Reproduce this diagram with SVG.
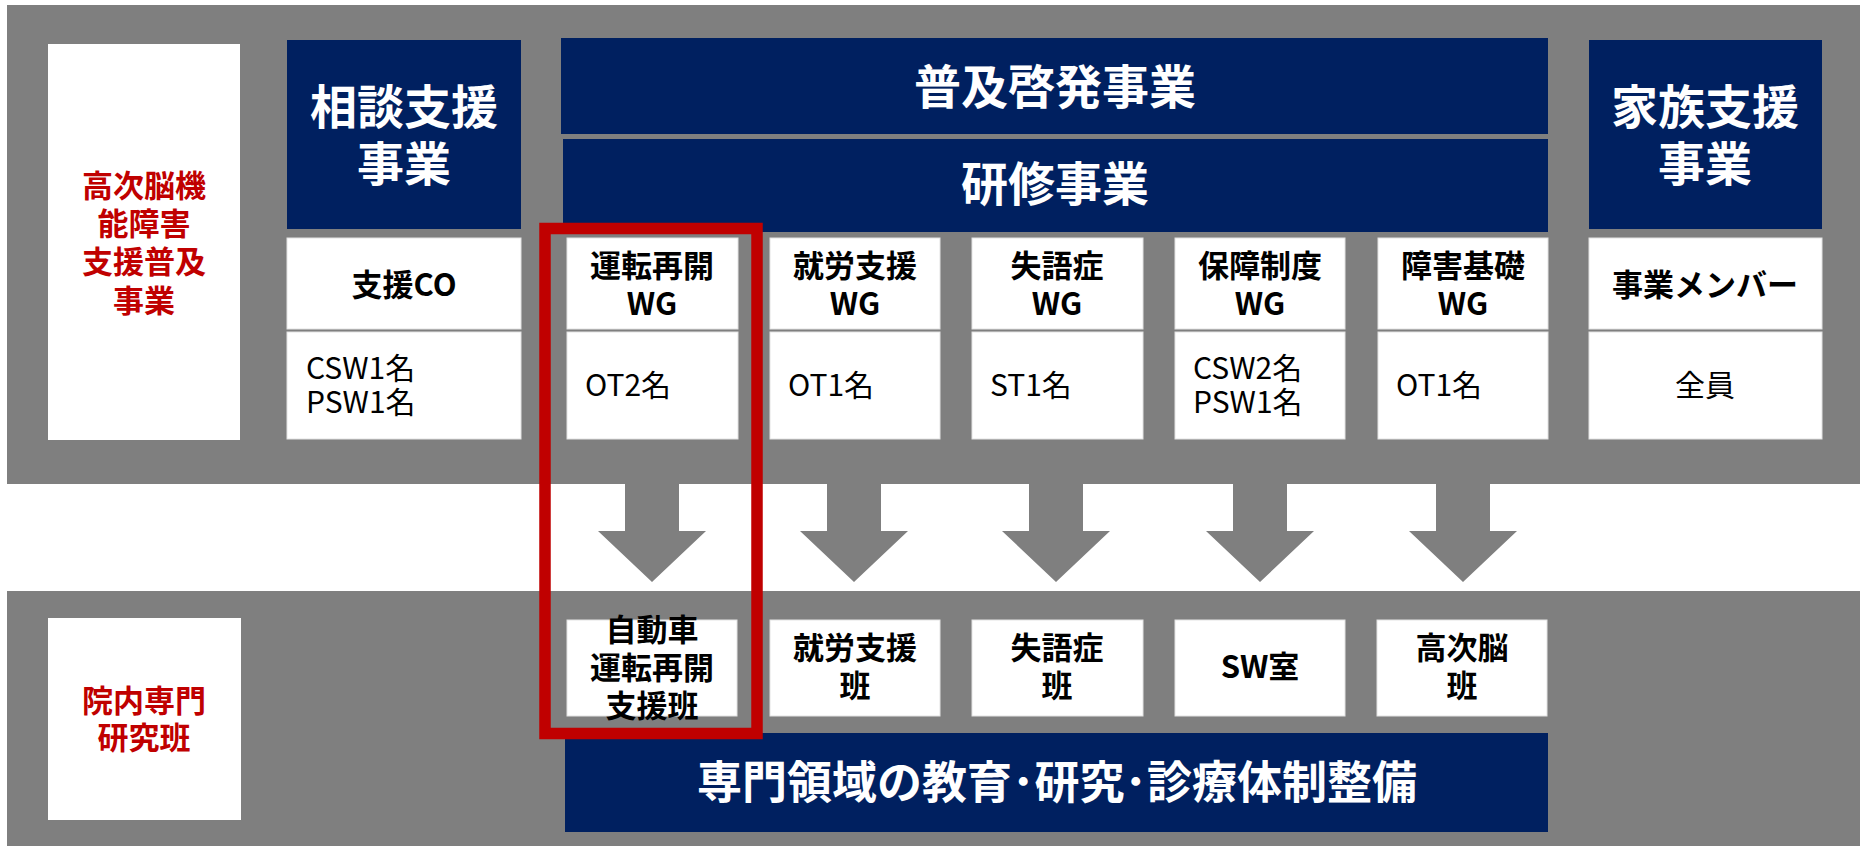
<svg xmlns="http://www.w3.org/2000/svg" width="1860" height="846" viewBox="0 0 1860 846">
<style>
.band{fill:#7f7f7f}
.navy{fill:#002060}
.wbox{fill:#ffffff;stroke:#e3e3e3;stroke-width:1}
.arrow{fill:#7f7f7f}
text{font-family:"Noto Sans CJK JP","Noto Sans",sans-serif}
.hd{fill:#ffffff;font-weight:700;font-size:47px;text-anchor:middle}
.hd2{fill:#ffffff;font-weight:700;font-size:45px;text-anchor:middle}
.red{fill:#c00000;font-weight:700;font-size:31px;text-anchor:middle}
.ttl{fill:#000000;font-weight:700;font-size:31px;text-anchor:middle}
.mem{fill:#000000;font-weight:400;font-size:30px}
.memc{fill:#000000;font-weight:400;font-size:30px;text-anchor:middle}
</style>
<rect width="1860" height="846" fill="#ffffff"/>
<g id="bands">
<rect class="band" x="7" y="5" width="1853" height="479"/>
<rect class="band" x="7" y="591" width="1853" height="255"/>
</g>
<g id="label-top">
<rect x="48" y="44" width="192" height="396" fill="#ffffff"/>
<text class="red"><tspan x="144" y="197">高次脳機</tspan><tspan x="144" y="235">能障害</tspan><tspan x="144" y="273">支援普及</tspan><tspan x="144" y="312">事業</tspan></text>
</g>
<g id="soudan">
<rect class="navy" x="287" y="40" width="234" height="189"/>
<text class="hd"><tspan x="404" y="124">相談支援</tspan><tspan x="404" y="181">事業</tspan></text>
<rect class="wbox" x="287" y="238" width="234" height="91"/>
<text class="ttl" x="404" y="296">支援CO</text>
<rect class="wbox" x="287" y="332" width="234" height="107"/>
<text class="mem"><tspan x="306" y="379">CSW1名</tspan><tspan x="306" y="413">PSW1名</tspan></text>
</g>
<g id="fukyu">
<rect class="navy" x="561" y="38" width="987" height="96"/>
<text class="hd" x="1055" y="104">普及啓発事業</text>
</g>
<g id="kenshu">
<rect class="navy" x="563" y="139" width="985" height="93"/>
<text class="hd" x="1055" y="201">研修事業</text>
</g>
<g id="wg-unten">
<rect class="wbox" x="567" y="238" width="171" height="91"/>
<text class="ttl"><tspan x="652" y="277">運転再開</tspan><tspan x="652" y="315">WG</tspan></text>
<rect class="wbox" x="567" y="332" width="171" height="107"/>
<text class="mem" x="585" y="396">OT2名</text>
</g>
<g id="wg-shuro">
<rect class="wbox" x="770" y="238" width="170" height="91"/>
<text class="ttl"><tspan x="855" y="277">就労支援</tspan><tspan x="855" y="315">WG</tspan></text>
<rect class="wbox" x="770" y="332" width="170" height="107"/>
<text class="mem" x="788" y="396">OT1名</text>
</g>
<g id="wg-shitsugo">
<rect class="wbox" x="972" y="238" width="171" height="91"/>
<text class="ttl"><tspan x="1057" y="277">失語症</tspan><tspan x="1057" y="315">WG</tspan></text>
<rect class="wbox" x="972" y="332" width="171" height="107"/>
<text class="mem" x="990" y="396">ST1名</text>
</g>
<g id="wg-hosho">
<rect class="wbox" x="1175" y="238" width="170" height="91"/>
<text class="ttl"><tspan x="1260" y="277">保障制度</tspan><tspan x="1260" y="315">WG</tspan></text>
<rect class="wbox" x="1175" y="332" width="170" height="107"/>
<text class="mem"><tspan x="1193" y="379">CSW2名</tspan><tspan x="1193" y="413">PSW1名</tspan></text>
</g>
<g id="wg-kiso">
<rect class="wbox" x="1378" y="238" width="170" height="91"/>
<text class="ttl"><tspan x="1463" y="277">障害基礎</tspan><tspan x="1463" y="315">WG</tspan></text>
<rect class="wbox" x="1378" y="332" width="170" height="107"/>
<text class="mem" x="1396" y="396">OT1名</text>
</g>
<g id="kazoku">
<rect class="navy" x="1589" y="40" width="233" height="189"/>
<text class="hd"><tspan x="1705" y="124">家族支援</tspan><tspan x="1705" y="181">事業</tspan></text>
<rect class="wbox" x="1589" y="238" width="233" height="91"/>
<text class="ttl" x="1705" y="296">事業メンバー</text>
<rect class="wbox" x="1589" y="332" width="233" height="107"/>
<text class="memc" x="1705" y="396">全員</text>
</g>
<g id="connectors">
<polygon class="arrow" points="625,484 679,484 679,531 706,531 652,582 598,531 625,531"/>
<polygon class="arrow" points="827,484 881,484 881,531 908,531 854,582 800,531 827,531"/>
<polygon class="arrow" points="1029,484 1083,484 1083,531 1110,531 1056,582 1002,531 1029,531"/>
<polygon class="arrow" points="1233,484 1287,484 1287,531 1314,531 1260,582 1206,531 1233,531"/>
<polygon class="arrow" points="1436,484 1490,484 1490,531 1517,531 1463,582 1409,531 1436,531"/>
</g>
<g id="label-bottom">
<rect x="48" y="618" width="193" height="202" fill="#ffffff"/>
<text class="red"><tspan x="144" y="712">院内専門</tspan><tspan x="144" y="749">研究班</tspan></text>
</g>
<g id="han-jidosha">
<rect class="wbox" x="567" y="620" width="170" height="96"/>
<text class="ttl"><tspan x="652" y="641">自動車</tspan><tspan x="652" y="679">運転再開</tspan><tspan x="652" y="717">支援班</tspan></text>
</g>
<g id="han-shuro">
<rect class="wbox" x="770" y="620" width="170" height="96"/>
<text class="ttl"><tspan x="855" y="659">就労支援</tspan><tspan x="855" y="697">班</tspan></text>
</g>
<g id="han-shitsugo">
<rect class="wbox" x="972" y="620" width="171" height="96"/>
<text class="ttl"><tspan x="1057" y="659">失語症</tspan><tspan x="1057" y="697">班</tspan></text>
</g>
<g id="han-sw">
<rect class="wbox" x="1175" y="620" width="170" height="96"/>
<text class="ttl" x="1260" y="678">SW室</text>
</g>
<g id="han-koji">
<rect class="wbox" x="1377" y="620" width="170" height="96"/>
<text class="ttl"><tspan x="1462" y="659">高次脳</tspan><tspan x="1462" y="697">班</tspan></text>
</g>
<g id="seibi">
<rect class="navy" x="565" y="733" width="983" height="99"/>
<text class="hd2" x="1057" y="799">専門領域の教育･研究･診療体制整備</text>
</g>
<g id="highlight">
<rect x="545" y="228.5" width="212" height="505" fill="none" stroke="#c00000" stroke-width="11.5"/>
</g>
</svg>
